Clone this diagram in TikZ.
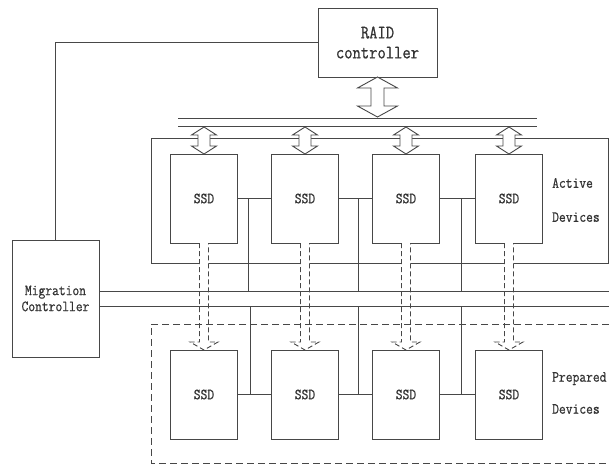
\documentclass[tikz,border=0pt]{standalone}
\usepackage{fontspec}
\newfontfamily\diagfont[FakeStretch=0.85,FakeBold=0.8]{Latin Modern Mono}

% hollow double arrow: x, top, bottom, head half width, shaft half width, head length
\newcommand{\dblarrow}[6]{%
  \filldraw[line, fill=white] (#1,#2) -- (#1+#4,#2+#6) -- (#1+#5,#2+#6) -- (#1+#5,#3-#6)
    -- (#1+#4,#3-#6) -- (#1,#3) -- (#1-#4,#3-#6) -- (#1-#5,#3-#6) -- (#1-#5,#2+#6)
    -- (#1-#4,#2+#6) -- cycle;}
% dashed hollow arrow pointing down
\newcommand{\migarrow}[6]{%
  \filldraw[line, fill=white, dash pattern=on 5pt off 3pt] (#1-#5,#2) -- (#1-#5,#3-#6)
    -- (#1-#4,#3-#6) -- (#1,#3) -- (#1+#4,#3-#6) -- (#1+#5,#3-#6) -- (#1+#5,#2);}

\begin{document}
\begin{tikzpicture}[x=1pt, y=-1pt,
    line/.style={draw=black!72, line width=0.9pt},
    ctrlbox/.style={line, align=center, inner sep=0pt, text=black!80},
    ssdbox/.style={line, minimum width=67pt, minimum height=89pt, inner sep=0pt,
      text=black!80, font=\diagfont\fontsize{15.5}{16}\selectfont},
    grouplabel/.style={anchor=west, align=left, inner sep=0pt, text=black!80},
    dashline/.style={line, dash pattern=on 7pt off 4pt}]
    \useasboundingbox (0,0) rectangle (609,464);

    % controllers
    \node[ctrlbox, minimum width=119pt, minimum height=69pt,
      font=\diagfont\fontsize{19}{20}\selectfont] (raid) at (377.5,42.5) {RAID\\controller};
    \node[ctrlbox, minimum width=87pt, minimum height=117pt,
      font=\diagfont\fontsize{15.5}{16}\selectfont] (mig) at (55.5,298.5) {Migration\\Controller};
    \draw[line] (mig.north) |- (raid.west);

    % active group and host bus
    \draw[line] (151,138) rectangle (608,263);
    \draw[line] (178,118) -- (537,118);
    \draw[line] (178,126) -- (537,126);
    \dblarrow{377.5}{77}{117}{20}{6.5}{11}

    \foreach \i/\x in {1/204, 2/305, 3/406, 4/509} {
        \node[ssdbox] (act\i) at (\x,198.5) {SSD};
        \node[ssdbox] (prep\i) at (\x,394.5) {SSD};
        \dblarrow{\x}{127}{154}{12.5}{6}{8}
        \migarrow{\x}{243}{350}{14}{4.5}{8}
    }

    % links between neighbours
    \foreach \i/\j/\ta/\tb in {1/2/248/250, 2/3/358/358, 3/4/461/461} {
        \draw[line] (act\i.east) -- (act\j.west);
        \draw[line] (prep\i.east) -- (prep\j.west);
        \draw[line] (\ta,198.5) -- (\ta,291);
        \draw[line] (\tb,306) -- (\tb,394.5);
    }

    % migration bus
    \coordinate (busA) at (609,291);
    \coordinate (busB) at (609,306);
    \draw[line] (mig.east |- busA) -- (busA);
    \draw[line] (mig.east |- busB) -- (busB);

    % prepared group
    \draw[dashline] (609,324) -- (151,324) -- (151,463) -- (609,463);

    \node[grouplabel, font=\diagfont\fontsize{15.5}{34}\selectfont] (actlabel) at (552,200) {Active\\Devices};
    \node[grouplabel, font=\diagfont\fontsize{15.5}{32}\selectfont] (preplabel) at (552,393) {Prepared\\Devices};
\end{tikzpicture}
\end{document}
